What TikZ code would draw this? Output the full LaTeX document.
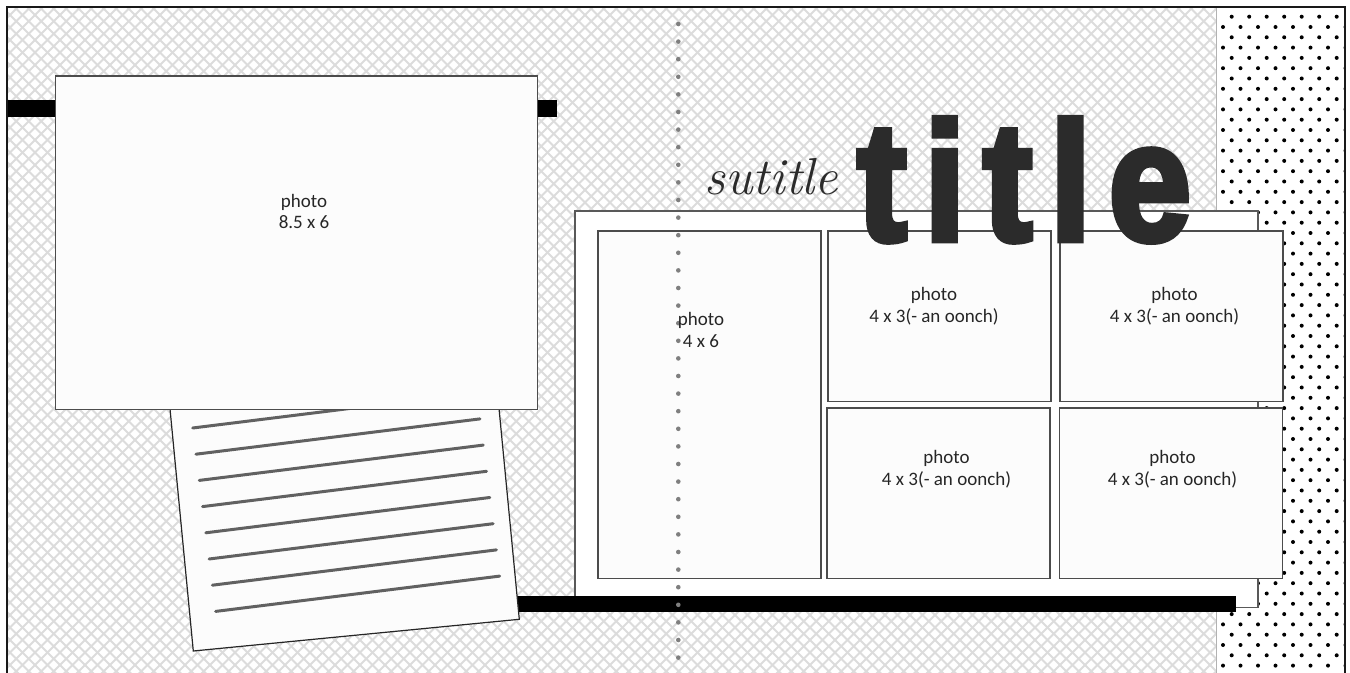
\documentclass[tikz,border=0pt]{standalone}
\usepackage{fontspec}
\newfontfamily\labelfont{Carlito}
\newfontfamily\titlefont{Liberation Sans}[LetterSpace=12, FakeBold=4]
\usetikzlibrary{positioning}
\definecolor{inkgray}{HTML}{2B2B2B}
\definecolor{hatchgray}{HTML}{DCDCDC}
\definecolor{dotgray}{HTML}{7F7F7F}

\begin{document}
\begin{tikzpicture}[x=0.5pt, y=-0.5pt,
    photo/.style={draw=black!70, line width=0.75pt, fill=black!1, inner sep=0pt,
        minimum width=111.5pt, minimum height=85.25pt},
    caption/.style={font=\labelfont\fontsize{9.5}{10.75}\selectfont, align=center, text=black!85},
    hatch/.style={hatchgray, line width=1pt},
    tape/.style={fill=black},
    noteline/.style={draw=black!62, line width=1.5pt, line cap=round}]

    % Page
    \useasboundingbox (0,0) rectangle (1350,673);
    \fill[white] (0,0) rectangle (1350,673);

    % Crosshatch paper
    \begin{scope}
        \clip (7,7) rectangle (1216.7,673);
        \foreach \c in {0,12.5,...,1905} {
            \draw[hatch] (\c-680,0) -- ++(700,700);
            \draw[hatch] (\c,0) -- ++(-700,700);
        }
    \end{scope}

    % Polka dot strip
    \begin{scope}
        \clip (1216.7,7) rectangle (1345,673);
        \foreach \j in {0,...,64}
            \foreach \i in {0,...,7}
                \fill[black] ({1231.7+17.5*\i-8.7*mod(\j,2)},{16.7+10.3*\j}) circle[radius=1pt];
    \end{scope}
    \draw[black!30, line width=0.5pt] (1216.7,7) -- (1216.7,673);

    % Right page: mat and bottom tape
    \node[draw=black!65, line width=0.6pt, fill=white, inner sep=0pt,
        minimum width=341.5pt, minimum height=198.35pt] (mat) at (916.5,409.35) {};
    \fill[tape] (480,596) rectangle (1236,612.3);

    % Journal card
    \coordinate (cardtl) at (168.2,390.2);
    \coordinate (cardtr) at (494.2,358.5);
    \coordinate (cardbr) at (519.3,619.3);
    \coordinate (cardbl) at (193.3,651);
    \draw[fill=black!1, draw=black!85, line width=0.6pt] (cardtl) -- (cardtr) -- (cardbr) -- (cardbl) -- cycle;
    \foreach \k in {0,...,7}
        \draw[noteline] ({192.7+3.28*\k},{428+26.2*\k}) -- ++(284,-35.3);

    % Left page: tape and big photo
    \fill[tape] (8.4,100) rectangle (556.8,116.7);
    \node[photo, minimum width=241pt, minimum height=166.65pt] (bigphoto) at (296.5,242.65) {};

    % Right page photos
    \node[photo, minimum height=173.65pt] (tallphoto) at (709.5,404.65) {};
    \foreach \n/\x/\y in {midtop/939.35/316.35, righttop/1171.25/316.35, midbot/938.65/493.3, rightbot/1170.8/493.3}
        \node[photo] (\n) at (\x,\y) {};

    % Gutter stitching
    \foreach \k in {0,...,36}
        \fill[dotgray] (678.3,{24+17.6*\k}) circle[radius=1.15pt];

    % Captions
    \node[caption] (cap-big) at (304,211.7) {photo\\8.5 x 6};
    \node[caption] (cap-tall) at (701,330) {photo\\4 x 6};
    \foreach \n/\x/\y in {midtop/934/306, righttop/1174.5/306, midbot/946.5/469, rightbot/1172.5/469}
        \node[caption] (cap-\n) at (\x,\y) {photo\\4 x 3(- an oonch)};

    % Titles
    \node[anchor=base west, inner sep=0pt, text=inkgray, font=\itshape\fontsize{26}{26}\selectfont] (subtitle) at (704,195) {sutitle};
    \node[anchor=base west, inner sep=0pt, text=inkgray, xscale=0.88, transform shape,
        font=\titlefont\bfseries\fontsize{84}{84}\selectfont] (title) at (857,240) {title};

    % Frame
    \draw[black!90, line width=1.25pt] (7,673) -- (7,7) -- (1345,7) -- (1345,673);

\end{tikzpicture}
\end{document}
